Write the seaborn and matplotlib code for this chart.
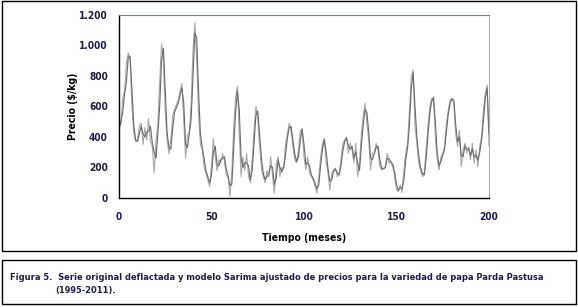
import numpy as np
import pandas as pd
import matplotlib.pyplot as plt
import seaborn as sns
from matplotlib.patches import Rectangle
from matplotlib.ticker import FuncFormatter

# Deflated original price series ($/kg), months 0..200
original = [
    470, 480, 650, 700, 880, 950, 900, 600, 420, 370,
    380, 470, 490, 350, 460, 380, 520, 370, 340, 165,
    380, 480, 760, 1010, 900, 560, 380, 290, 380, 540,
    580, 610, 640, 700, 750, 500, 260, 410, 430, 620,
    970, 1150, 900, 560, 350, 320, 200, 160, 120, 75,
    210, 390, 270, 180, 250, 230, 290, 240, 150, 130,
    10, 180, 460, 660, 730, 420, 140, 270, 180, 290,
    140, 100, 250, 450, 600, 520, 340, 190, 140, 100,
    180, 140, 270, 140, 30, 220, 270, 140, 200, 190,
    350, 420, 490, 440, 340, 250, 230, 310, 440, 455,
    270, 183, 270, 160, 140, 118, 74, 32, 140, 270,
    358, 390, 227, 163, 53, 163, 183, 195, 140, 163,
    250, 358, 380, 400, 294, 358, 315, 227, 358, 140,
    227, 424, 530, 620, 490, 380, 183, 294, 294, 358,
    315, 205, 183, 195, 205, 294, 227, 240, 205, 140,
    53, 42, 85, 36, 183, 294, 358, 576, 795, 838,
    467, 358, 227, 183, 140, 163, 315, 467, 598, 652,
    652, 400, 250, 183, 270, 294, 337, 489, 576, 640,
    652, 620, 420, 337, 445, 205, 315, 358, 294, 337,
    250, 358, 227, 315, 205, 337, 402, 576, 685, 740,
    340,
]

# Fitted SARIMA model
fitted = [
    450, 500, 560, 680, 760, 920, 930, 700, 480, 380,
    370, 420, 470, 420, 400, 430, 440, 470, 360, 300,
    260, 420, 600, 900, 980, 700, 430, 330, 320, 450,
    560, 590, 620, 670, 720, 620, 350, 330, 420, 520,
    800, 1080, 1050, 700, 420, 330, 260, 180, 140, 100,
    150, 300, 340, 220, 210, 250, 260, 270, 190, 140,
    80, 90, 330, 560, 700, 580, 260, 200, 230, 230,
    210, 120, 180, 360, 540, 570, 420, 260, 160, 120,
    140, 160, 210, 200, 90, 130, 250, 200, 170, 200,
    280, 390, 460, 470, 380, 290, 240, 270, 380, 450,
    350, 220, 230, 210, 150, 130, 95, 60, 90, 210,
    320, 380, 300, 190, 110, 120, 175, 190, 165, 150,
    210, 310, 370, 390, 340, 320, 340, 260, 300, 230,
    180, 340, 480, 580, 560, 430, 260, 250, 290, 330,
    340, 250, 195, 190, 200, 260, 255, 235, 220, 170,
    90, 50, 70, 60, 120, 250, 330, 480, 720, 820,
    600, 400, 280, 200, 160, 150, 250, 410, 550, 630,
    660, 500, 300, 210, 240, 280, 320, 440, 550, 620,
    650, 640, 480, 370, 400, 280, 270, 340, 320, 320,
    280, 320, 270, 280, 250, 300, 380, 510, 650, 720,
    420,
]

x_ticks = [0, 50, 100, 150, 200]
y_ticks = [0, 200, 400, 600, 800, 1000, 1200]

caption_1 = "Figura 5.  Serie original deflactada y modelo Sarima ajustado de precios para la variedad de papa Parda Pastusa"
caption_2 = "(1995-2011)."

months = np.arange(len(original))

# Long format for seaborn
data = pd.DataFrame({
    "mes": np.concatenate([months, months]),
    "precio": original + fitted,
    "serie": ["Original"] * len(original) + ["Sarima"] * len(fitted),
})

sns.set_style("white")
plt.rcParams["font.family"] = ["DejaVu Sans"]
plt.rcParams["font.stretch"] = "condensed"
text_color = "#1c1c4c"

fig = plt.figure(figsize=(5.78, 3.07), dpi=100)
ax = fig.add_axes([119 / 578, 1 - 198 / 307, 370 / 578, 183.3 / 307])

sns.lineplot(data=data, x="mes", y="precio", hue="serie",
             palette={"Original": "#a8a8a8", "Sarima": "#6a6a6a"},
             hue_order=["Original", "Sarima"],
             linewidth=0.8, legend=False, ax=ax)

ax.set_xlim(0, 200)
ax.set_ylim(0, 1200)
ax.set_xticks(x_ticks)
ax.set_yticks(y_ticks)
ax.yaxis.set_major_formatter(FuncFormatter(lambda v, p: f"{int(v):,}".replace(",", ".")))

# Spines: solid black left/bottom, dotted top, light gray right
for side in ["left", "bottom"]:
    ax.spines[side].set_color("black")
    ax.spines[side].set_linewidth(1.0)
ax.spines["top"].set_color("#778877")
ax.spines["top"].set_linestyle((0, (1, 1)))
ax.spines["top"].set_linewidth(0.8)
ax.spines["right"].set_color("#b0b0b0")
ax.spines["right"].set_linewidth(0.8)

ax.tick_params(axis="both", direction="out", length=4, width=1, color="black",
               labelsize=7.3, labelcolor=text_color)
ax.tick_params(axis="y", pad=4)
ax.tick_params(axis="x", pad=6)
for lab in ax.get_xticklabels() + ax.get_yticklabels():
    lab.set_fontweight("bold")

ax.set_xlabel("Tiempo (meses)", fontsize=7.5, fontweight="bold", color="black")
ax.set_ylabel("Precio ($/kg)", fontsize=7.5, fontweight="bold", color="black")
ax.xaxis.set_label_coords(0.5, -0.19)
ax.yaxis.set_label_coords(-0.11, 0.5)

# Frames around chart and caption
fig.add_artist(Rectangle((1.5 / 578, 1 - 251 / 307), 574.5 / 578, 250 / 307,
                         transform=fig.transFigure, fill=False, edgecolor="black", linewidth=1))
fig.add_artist(Rectangle((1.5 / 578, 1 - 304 / 307), 574.5 / 578, 44 / 307,
                         transform=fig.transFigure, fill=False, edgecolor="black", linewidth=1))

cap1 = fig.text(10 / 578, 1 - 278 / 307, caption_1,
                fontsize=7, fontweight="bold", color=text_color, va="center", ha="left")
cap2 = fig.text(55 / 578, 1 - 290 / 307, caption_2,
                fontsize=7, fontweight="bold", color=text_color, va="center", ha="left")

# Shrink caption so the first line spans about 536 px like the original
renderer = fig.canvas.get_renderer()
w = cap1.get_window_extent(renderer).width
size = min(7.5, 7 * 536 / w)
cap1.set_fontsize(size)
cap2.set_fontsize(size)

fig.savefig("out.png", dpi=100)
plt.close()
